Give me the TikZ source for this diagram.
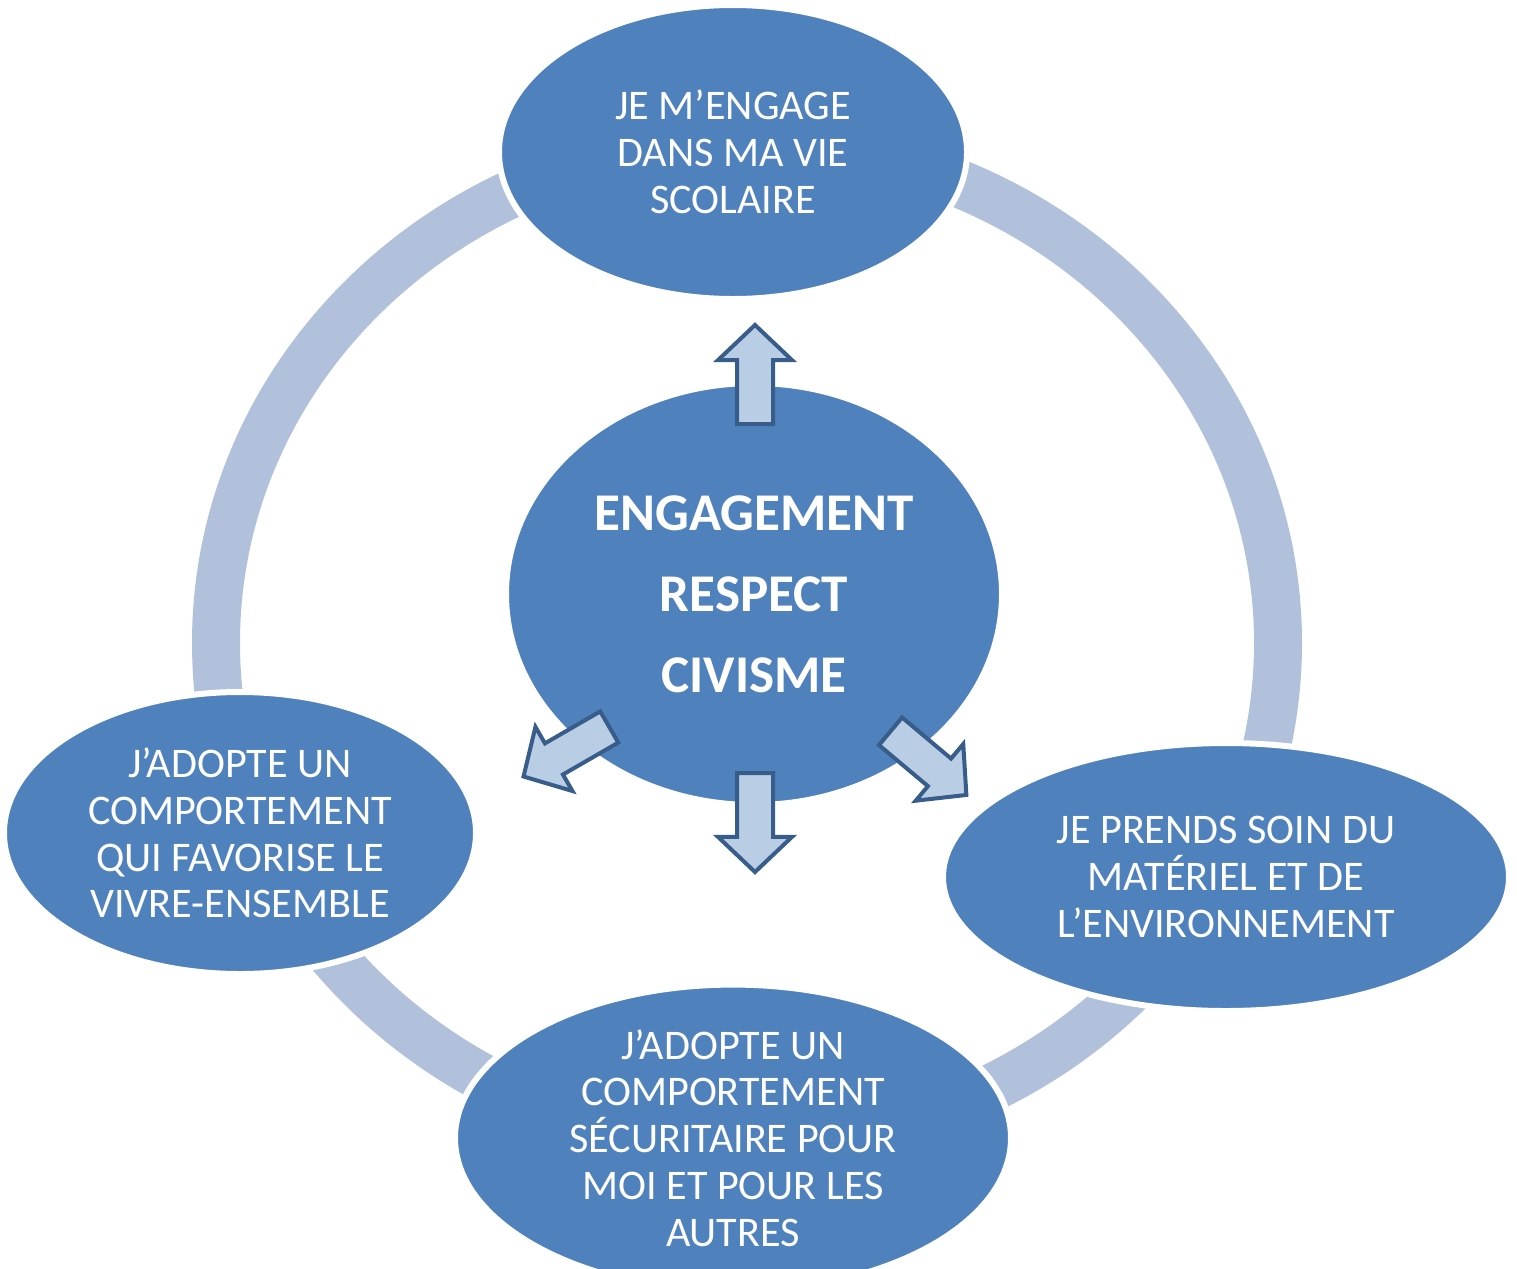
\documentclass[tikz,border=0pt]{standalone}
\usepackage{fontspec}
\setmainfont{Carlito}
\usetikzlibrary{shapes.geometric,shapes.arrows}
\definecolor{bleu}{HTML}{4F81BD}
\definecolor{anneau}{HTML}{B1C1DC}
\definecolor{flechefond}{HTML}{B9CDE5}
\definecolor{flechebord}{HTML}{385D8A}
\newcommand{\px}{0.02cm}
\begin{document}
\begin{tikzpicture}[x=\px,y=-\px,
	bulle/.style={ellipse, fill=bleu, draw=white, line width=6*\px, inner sep=0pt,
		text=white, align=center, font=\fontsize{24}{26.6}\selectfont},
	fleche/.style={single arrow, fill=flechefond, draw=flechebord, line width=4*\px,
		inner xsep=0pt, inner ysep=16*\px, minimum width=0pt, minimum height=99*\px,
		single arrow head extend=19*\px, single arrow tip angle=93, anchor=tail}]
	\useasboundingbox (0,0) rectangle (1517,1268);
	%\draw[help lines] (0,0) grid[step=100] (1517,1268);
	\draw[anneau, line width=48*\px] (747,643) ellipse [x radius=531, y radius=501];
	\node[bulle, minimum width=468*\px, minimum height=294*\px] (haut) at (733,152)
		{JE M’ENGAGE\\DANS MA VIE\\SCOLAIRE};
	\node[bulle, minimum width=472*\px, minimum height=282*\px] (gauche) at (240,833)
		{J’ADOPTE UN\\COMPORTEMENT\\QUI FAVORISE LE\\VIVRE-ENSEMBLE};
	\node[bulle, minimum width=566*\px, minimum height=268*\px] (droite) at (1226,877)
		{JE PRENDS SOIN DU\\MATÉRIEL ET DE\\L’ENVIRONNEMENT};
	\node[bulle, minimum width=556*\px, minimum height=264*\px] (bas) at (733,1138)
		{J’ADOPTE UN\\COMPORTEMENT\\SÉCURITAIRE POUR\\MOI ET POUR LES\\AUTRES};
	\node[bulle, minimum width=496*\px, minimum height=422*\px,
		font=\fontsize{30.2}{46}\selectfont\bfseries] (centre) at (754,594)
		{ENGAGEMENT\\RESPECT\\CIVISME};
	\node[fleche, rotate=90] (versHaut) at (755,426) {};
	\node[fleche, rotate=-90] (versBas) at (755,771) {};
	\node[fleche, rotate=210] (versGauche) at (611,726) {};
	\node[fleche, rotate=-40] (versDroite) at (889,730) {};
\end{tikzpicture}
\end{document}
